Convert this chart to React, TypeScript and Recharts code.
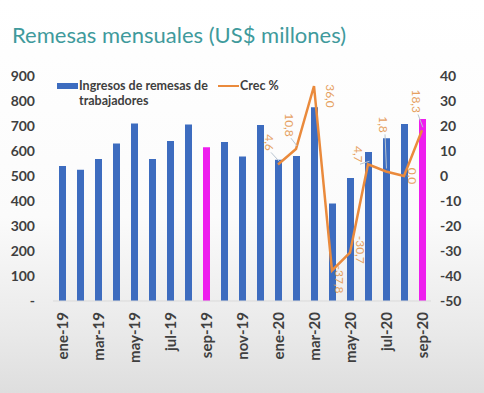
import React from 'react'
import { ComposedChart, Bar, Line, XAxis, YAxis, Cell, LabelList } from 'recharts'

const months = [
  'ene-19', 'feb-19', 'mar-19', 'abr-19', 'may-19', 'jun-19', 'jul-19', 'ago-19', 'sep-19', 'oct-19', 'nov-19', 'dic-19',
  'ene-20', 'feb-20', 'mar-20', 'abr-20', 'may-20', 'jun-20', 'jul-20', 'ago-20', 'sep-20',
]
const remesas = [540, 525, 568, 630, 710, 568, 640, 706, 615, 636, 578, 704, 565, 580, 775, 390, 492, 596, 651, 708, 728]
const crec: (number | null)[] = [
  null, null, null, null, null, null, null, null, null, null, null, null,
  4.6, 10.8, 36.0, -37.8, -30.7, 4.7, 1.8, 0.0, 18.3,
]
const leftTicks = [0, 100, 200, 300, 400, 500, 600, 700, 800, 900]
const rightTicks = [-50, -40, -30, -20, -10, 0, 10, 20, 30, 40]
const highlighted = ['sep-19', 'sep-20']

// where each growth label sits relative to its point (dx, dy), and whether it gets a leader line
const labelPlacement: Record<string, [number, number, boolean]> = {
  'ene-20': [-9, -22, true],
  'feb-20': [-7, -24, true],
  'mar-20': [16, 10, false],
  'abr-20': [7, 9, false],
  'may-20': [10, -3, false],
  'jun-20': [-10, -10, true],
  'jul-20': [-3, -47, true],
  'ago-20': [8, 0, false],
  'sep-20': [-6, -29, true],
}

const data = months.map((m, i) => ({ month: m, remesas: remesas[i], crec: crec[i] }))

const FONT = 'Lato, "Open Sans", sans-serif'
const AXIS_TEXT = '#3f3f3f'
const BLUE = '#3d6cbf'
const MAGENTA = '#ee1eee'
const ORANGE = '#ea8a3c'
const LABEL_ORANGE = '#e6a060'

function XTick(props: any) {
  const { x, y, payload } = props
  return (
    <text
      transform={`translate(${x},${y + 9}) rotate(-90)`}
      textAnchor="end"
      dominantBaseline="central"
      fontFamily={FONT}
      fontSize={15}
      fontWeight={700}
      fill={AXIS_TEXT}
    >
      {payload.value}
    </text>
  )
}

function GrowthLabel(props: any) {
  const { x, y, value, index } = props
  if (value === null || value === undefined) return null
  const place = labelPlacement[months[index]]
  if (!place) return null
  const [dx, dy, leader] = place
  const text = value.toFixed(1).replace('.', ',')
  const half = text.length * 3.3
  const lx = x + dx
  const ly = y + dy
  return (
    <g>
      {leader && (
        <line
          x1={lx + (dx < 0 ? 2 : -2)}
          y1={ly + half}
          x2={x - dx * 0.15}
          y2={y - 3}
          stroke="#b8c4d0"
          strokeWidth={1}
        />
      )}
      <text
        transform={`translate(${lx},${ly}) rotate(90)`}
        textAnchor="middle"
        dominantBaseline="central"
        fontFamily={FONT}
        fontSize={12}
        fill={LABEL_ORANGE}
      >
        {text}
      </text>
    </g>
  )
}

export default function App() {
  return (
    <div
      style={{
        position: 'fixed',
        left: 0,
        top: 0,
        width: 484,
        height: 393,
        background: 'linear-gradient(180deg, #ffffff 0%, #fbfbfb 55%, #e9e9e9 85%, #dedede 100%)',
        overflow: 'hidden',
      }}
    >
      <div
        style={{
          position: 'absolute',
          left: 12,
          top: 21,
          fontFamily: FONT,
          fontSize: 22,
          color: '#3f9a9c',
          whiteSpace: 'nowrap',
        }}
      >
        Remesas mensuales (US$ millones)
      </div>
      <div style={{ position: 'absolute', left: 57, top: 78, fontFamily: FONT, fontSize: 12.5, fontWeight: 700, color: AXIS_TEXT }}>
        <div style={{ display: 'flex', alignItems: 'flex-start' }}>
          <span style={{ display: 'inline-block', width: 21, height: 6, background: BLUE, marginTop: 5, marginRight: 1 }} />
          <span style={{ width: 139, lineHeight: '15px' }}>Ingresos de remesas de trabajadores</span>
          <span style={{ display: 'inline-block', width: 21, height: 2, background: ORANGE, marginTop: 7, marginRight: 1 }} />
          <span style={{ lineHeight: '15px' }}>Crec %</span>
        </div>
      </div>
      <div style={{ position: 'absolute', left: 0, top: 0 }}>
        <ComposedChart width={484} height={393} data={data} margin={{ top: 76, right: 0, left: 0, bottom: 32 }}>
          <XAxis
            dataKey="month"
            interval={1}
            tick={<XTick />}
            tickLine={false}
            tickSize={0}
            height={60}
            axisLine={{ stroke: '#d9d9d9' }}
          />
          <YAxis
            yAxisId="left"
            domain={[0, 900]}
            ticks={leftTicks}
            width={53}
            axisLine={false}
            tickLine={false}
            tickSize={0}
            tickMargin={18}
            tickFormatter={(v: number) => (v === 0 ? '-' : String(v))}
            tick={{ fontFamily: FONT, fontSize: 14, fontWeight: 700, fill: AXIS_TEXT }}
          />
          <YAxis
            yAxisId="right"
            orientation="right"
            domain={[-50, 40]}
            ticks={rightTicks}
            width={53}
            axisLine={false}
            tickLine={false}
            tickSize={0}
            tickMargin={9}
            tick={{ fontFamily: FONT, fontSize: 14, fontWeight: 700, fill: AXIS_TEXT, textAnchor: 'start' }}
          />
          <Bar yAxisId="left" dataKey="remesas" barSize={7} isAnimationActive={false}>
            {data.map((d) => (
              <Cell key={d.month} fill={highlighted.includes(d.month) ? MAGENTA : BLUE} />
            ))}
          </Bar>
          <Line
            yAxisId="right"
            dataKey="crec"
            stroke={ORANGE}
            strokeWidth={2.5}
            dot={false}
            isAnimationActive={false}
          >
            <LabelList dataKey="crec" content={<GrowthLabel />} />
          </Line>
        </ComposedChart>
      </div>
    </div>
  )
}
